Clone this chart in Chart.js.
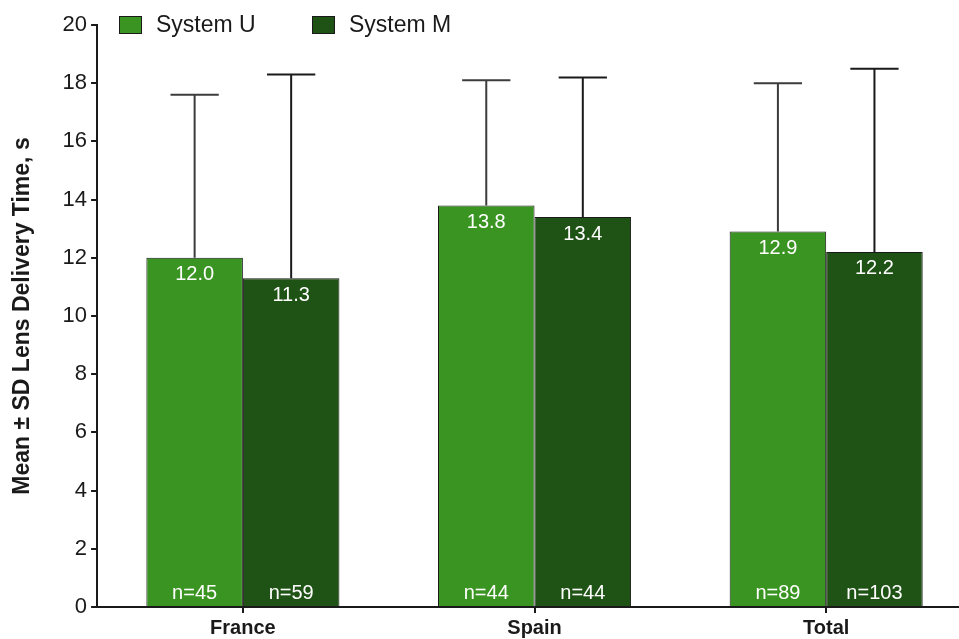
<!DOCTYPE html>
<html lang="en">
<head>
  <meta charset="UTF-8">
  <title>Lens Delivery Time</title>
  <script src="https://cdn.jsdelivr.net/npm/chart.js"></script>
  <style>
    html, body { margin: 0; padding: 0; overflow: hidden; background: #fff; }
    #wrap { width: 972px; height: 643px; }
  </style>
</head>
<body>
<div id="wrap"><canvas id="myChart"></canvas></div>
<script>
  // data
  const categories = ['France', 'Spain', 'Total'];
  const seriesNames = ['System U', 'System M'];
  const meanU = [12.0, 13.8, 12.9];
  const meanM = [11.3, 13.4, 12.2];
  const sdU = [5.6, 4.3, 5.1];
  const sdM = [7.0, 4.8, 6.3];
  const nU = [45, 44, 89];
  const nM = [59, 44, 103];

  const colorU = '#3a9421';
  const colorM = '#1f5215';
  const ink = '#1a1a1a';
  const FONT = '"Liberation Sans", Arial, sans-serif';

  // error bars (upper SD only) + value labels + n labels
  const barExtras = {
    id: 'barExtras',
    afterDatasetsDraw(chart) {
      const ctx = chart.ctx;
      const yScale = chart.scales.y;
      chart.data.datasets.forEach((ds, di) => {
        const meta = chart.getDatasetMeta(di);
        meta.data.forEach((bar, i) => {
          const top = yScale.getPixelForValue(ds.data[i] + ds.sd[i]);
          const half = bar.width / 4;
          ctx.save();
          ctx.strokeStyle = ds.whisker;
          ctx.lineWidth = 2;
          ctx.beginPath();
          ctx.moveTo(bar.x, bar.y);
          ctx.lineTo(bar.x, top);
          ctx.moveTo(bar.x - half, top);
          ctx.lineTo(bar.x + half, top);
          ctx.stroke();

          ctx.fillStyle = '#ffffff';
          ctx.textAlign = 'center';
          ctx.textBaseline = 'middle';
          ctx.font = '20px ' + FONT;
          ctx.fillText(ds.data[i].toFixed(1), bar.x, bar.y + 17);
          ctx.fillText('n=' + ds.n[i], bar.x, yScale.getPixelForValue(0) - 14);
          ctx.restore();
        });
      });
    }
  };

  // legend drawn over the top of the plot
  const topLegend = {
    id: 'topLegend',
    afterDraw(chart) {
      const ctx = chart.ctx;
      const starts = [119, 312];
      chart.data.datasets.forEach((ds, di) => {
        const x = starts[di];
        ctx.save();
        ctx.fillStyle = ds.backgroundColor;
        ctx.fillRect(x, 16, 23, 18);
        ctx.strokeStyle = ink;
        ctx.lineWidth = 1;
        ctx.strokeRect(x + 0.5, 16.5, 22, 17);
        ctx.fillStyle = ink;
        ctx.font = '23px ' + FONT;
        ctx.textAlign = 'left';
        ctx.textBaseline = 'middle';
        ctx.fillText(ds.label, x + 37, 26);
        ctx.restore();
      });
    }
  };

  const ctx = document.getElementById('myChart').getContext('2d');
  new Chart(ctx, {
    type: 'bar',
    data: {
      labels: categories,
      datasets: [
        {
          label: seriesNames[0],
          data: meanU,
          sd: sdU,
          n: nU,
          whisker: '#3c3c3c',
          backgroundColor: colorU,
          borderColor: ink,
          borderWidth: 1,
          categoryPercentage: 0.662,
          barPercentage: 1.0
        },
        {
          label: seriesNames[1],
          data: meanM,
          sd: sdM,
          n: nM,
          whisker: ink,
          backgroundColor: colorM,
          borderColor: ink,
          borderWidth: 1,
          categoryPercentage: 0.662,
          barPercentage: 1.0
        }
      ]
    },
    options: {
      responsive: true,
      maintainAspectRatio: false,
      animation: false,
      layout: { padding: { top: 25, left: 0, right: 0, bottom: 0 } },
      plugins: {
        legend: { display: false },
        tooltip: { enabled: false }
      },
      scales: {
        x: {
          border: { display: true, color: ink, width: 2 },
          grid: { offset: false, drawOnChartArea: false, drawTicks: true, tickLength: 6, color: ink, lineWidth: 2 },
          ticks: { color: ink, padding: 3, font: { family: FONT, size: 20, weight: 'bold' } }
        },
        y: {
          min: 0,
          max: 20,
          border: { display: true, color: ink, width: 2 },
          grid: { drawOnChartArea: false, drawTicks: true, tickLength: 6, color: ink, lineWidth: 2 },
          ticks: { stepSize: 2, color: ink, padding: 4, font: { family: FONT, size: 22 } },
          title: {
            display: true,
            text: 'Mean \u00b1 SD Lens Delivery Time, s',
            color: ink,
            padding: { top: 9, bottom: 22 },
            font: { family: FONT, size: 23, weight: 'bold' }
          }
        }
      }
    },
    plugins: [barExtras, topLegend]
  });
</script>
</body>
</html>
